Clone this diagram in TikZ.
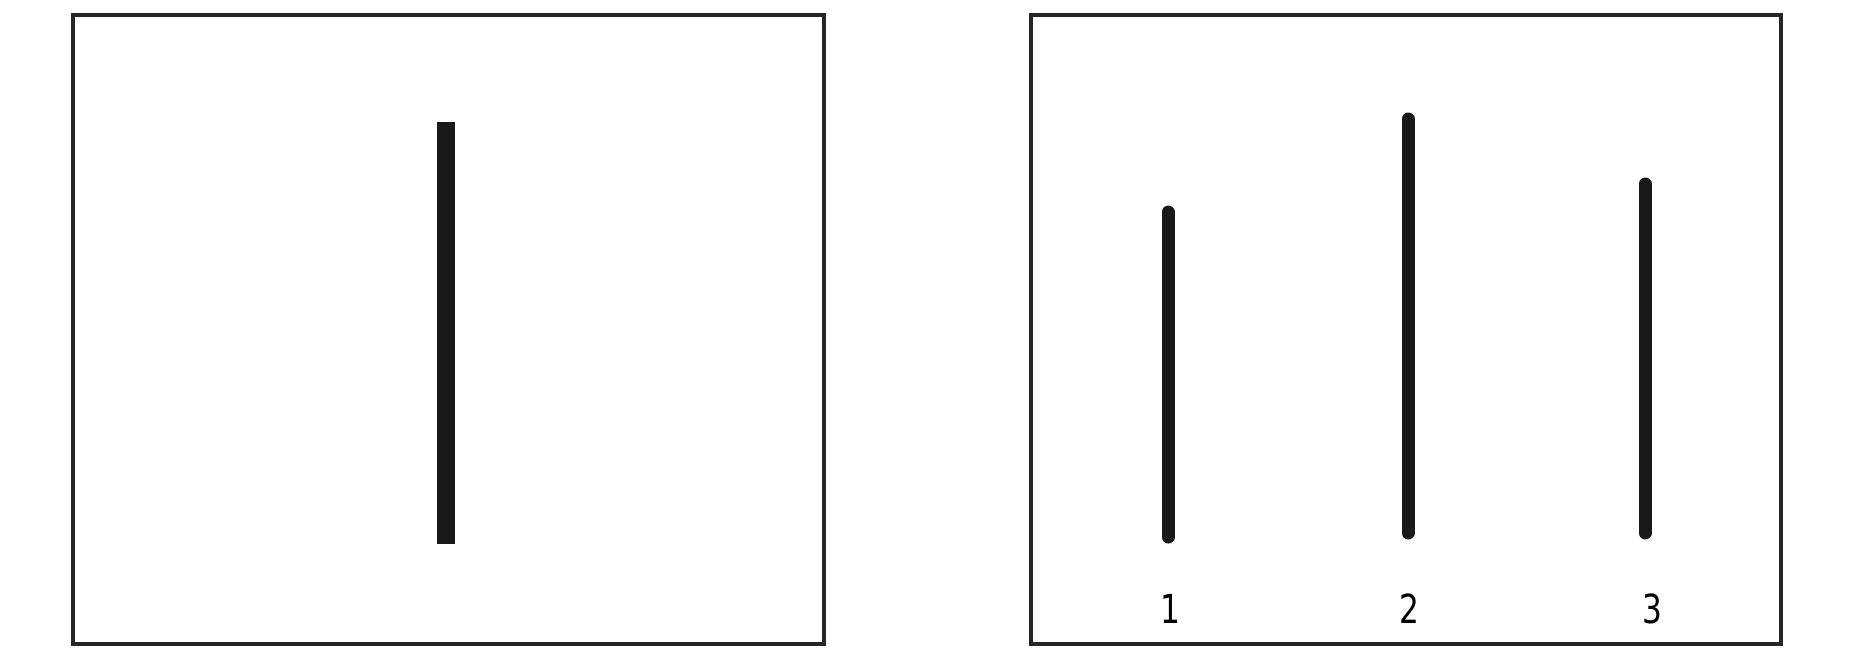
\documentclass[tikz,border=0pt]{standalone}
\usepackage{fontspec}
\setsansfont{DejaVu Sans}
\begin{document}
\begin{tikzpicture}[x=1pt,y=-1pt,
  frame/.style={draw=black!85,line width=3.2pt},
  rodL/.style={line width=18pt,black!90},
  rodR/.style={line width=13pt,black!90,line cap=round},
  lbl/.style={font=\sffamily\fontsize{40}{46}\selectfont,inner sep=0pt,anchor=center,xscale=0.78}]
\useasboundingbox[fill=white] (0,0) rectangle (1856,656);
% left card
\draw[frame] (73,15) rectangle (824,644);
\draw[rodL] (446,122) -- (446,544);
% right card
\draw[frame] (1031,15) rectangle (1781,644);
\draw[rodR] (1168,212) -- (1168,537);
\draw[rodR] (1408,119) -- (1408,533);
\draw[rodR] (1645,184) -- (1645,533);
\node[lbl] (n1) at (1170,609) {1};
\node[lbl] (n2) at (1409,609) {2};
\node[lbl] (n3) at (1652,609) {3};
\end{tikzpicture}
\end{document}
